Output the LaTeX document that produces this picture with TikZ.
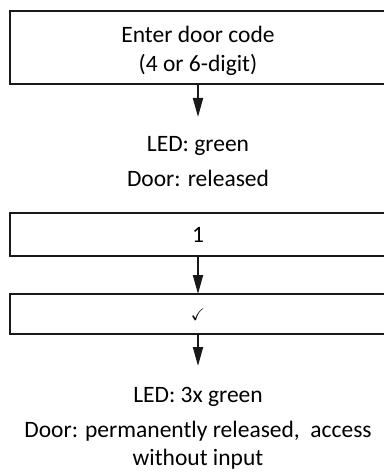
\documentclass[tikz,border=0pt]{standalone}
\usepackage{fontspec}
\usepackage{amssymb}
\setmainfont{Carlito}
\usetikzlibrary{arrows.meta}
\begin{document}
\begin{tikzpicture}[x=1pt,y=-1pt,
  stepbox/.style={draw=black!90,line width=2pt,rectangle},
  flow/.style={line width=2pt,draw=black!90,-{Triangle[length=19pt,width=10pt]}},
  label/.style={anchor=base,font=\fontsize{23.5}{28}\selectfont,inner sep=0pt}]
\useasboundingbox (0,0) rectangle (383,473);
% boxes, running off the right edge
\draw[stepbox] (395,11) -- (10,11) -- (10,84) -- (395,84);
\draw[stepbox] (395,213) -- (10,213) -- (10,256) -- (395,256);
\draw[stepbox] (395,294) -- (10,294) -- (10,334) -- (395,334);
\coordinate (b1) at (198,84);
\coordinate (b2top) at (198,213);
\coordinate (b2) at (198,256);
\coordinate (b3top) at (198,294);
\coordinate (b3) at (198,334);
% texts
\node[label] (t1) at (198,43) {Enter door code};
\node[label] (t2) at (198,72) {(4 or 6-digit)};
\node[label] (led1) at (198,151) {LED: green};
\node[label] (door1) at (198,186) {Door: released};
\node[label] (one) at (198,242) {1};
\node[anchor=base,inner sep=0pt,font=\fontsize{17}{20}\selectfont] (chk) at (198,320) {$\checkmark$};
\node[label] (led2) at (198,402) {LED: 3x green};
\node[label] (door2) at (198,437) {Door: permanently released,\ \ access};
\node[label] (door3) at (198,465) {without input};
\coordinate (a1) at (198,117);
\coordinate (a3) at (198,366);
% arrows
\draw[flow] (b1) -- (a1);
\draw[flow] (b2) -- (b3top);
\draw[flow] (b3) -- (a3);
\end{tikzpicture}
\end{document}
